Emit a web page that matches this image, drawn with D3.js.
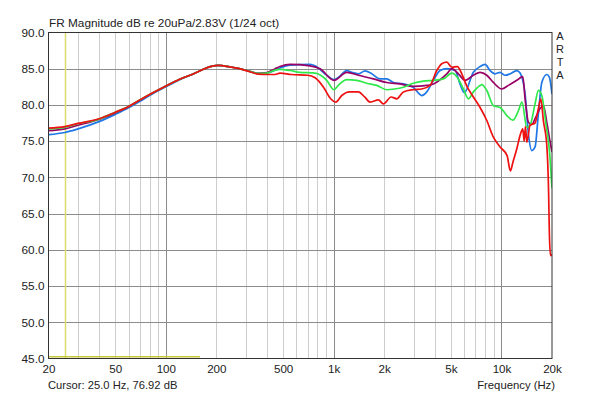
<!DOCTYPE html>
<html><head><meta charset="utf-8">
<script src="https://cdn.jsdelivr.net/npm/d3@7"></script>
<style>
html,body{margin:0;padding:0;background:#fff;}
svg{display:block;font-family:"Liberation Sans",Arial,sans-serif;}
</style></head>
<body><svg id="chart" width="600" height="397"></svg>
<script>
const titleText = "FR Magnitude dB re 20uPa/2.83V (1/24 oct)";
const xTickValues = [20,50,100,200,500,1000,2000,5000,10000,20000];
const xTickLabels = ["20","50","100","200","500","1k","2k","5k","10k","20k"];
const yTickValues = [45,50,55,60,65,70,75,80,85,90];
const yTickLabels = ["45.0","50.0","55.0","60.0","65.0","70.0","75.0","80.0","85.0","90.0"];
const cursorFreq = 25;
const cursorText = "Cursor: 25.0 Hz, 76.92 dB";
const markerRange = [20,160];
const markerLevel = 45.25;
const xAxisTitle = "Frequency (Hz)";
const brandLetters = ["A","R","T","A"];

const blueSeries = [[20,75.9],[25,76.2],[30,76.7],[40,77.7],[50,78.7],[60,79.6],[70,80.5],[80,81.3],[100,82.5],[120,83.45],[150,84.4],[170,85.0],[206,85.45],[240,85.25],[270,85.05],[320,84.6],[356,84.35],[400,84.4],[448,84.8],[479,85.1],[550,85.5],[723,85.6],[775,85.4],[910,84.1],[1005,83.5],[1066,83.8],[1197,84.75],[1282,84.5],[1404,84.3],[1539,84.7],[1687,84.3],[1890,83.6],[2072,83.6],[2270,83.1],[2603,82.9],[2975,82.45],[3350,81.3],[3590,81.8],[3929,83.4],[4308,84.75],[4722,85.0],[5292,84.75],[5660,82.9],[6000,81.7],[6801,84.5],[7457,85.3],[7986,85.6],[8554,84.75],[9162,84.3],[9810,84.5],[10506,84.1],[11275,84.3],[12340,84.75],[12910,84.4],[13828,81.5],[14470,76.0],[15158,73.7],[15852,74.2],[16596,78.8],[17388,83.1],[18622,84.2],[19300,83.8],[20000,81.5]];
const purpleSeries = [[20,76.45],[25,76.7],[30,77.2],[40,78.0],[50,78.9],[60,79.75],[70,80.65],[80,81.4],[100,82.6],[120,83.5],[150,84.4],[170,85.0],[206,85.45],[240,85.25],[270,85.05],[320,84.6],[356,84.35],[400,84.45],[448,85.0],[479,85.3],[550,85.6],[723,85.4],[830,85.0],[1005,83.4],[1197,84.5],[1404,84.1],[1724,83.6],[2072,83.1],[2488,82.9],[2975,82.55],[3590,82.7],[3929,82.9],[4722,84.3],[5058,85.0],[5534,84.3],[6070,83.4],[6801,84.1],[7457,84.5],[8177,84.1],[8950,83.1],[10044,82.2],[11000,82.7],[12340,83.4],[13398,83.9],[13828,80.85],[14470,77.6],[15158,77.3],[15852,78.1],[16986,79.5],[17774,79.9],[18622,77.6],[19486,74.9],[20000,73.5]];
const greenSeries = [[20,76.7],[25,76.9],[30,77.4],[40,78.05],[50,79.0],[60,79.8],[70,80.7],[80,81.45],[100,82.6],[120,83.5],[150,84.4],[170,85.0],[206,85.45],[240,85.25],[270,85.05],[320,84.6],[356,84.35],[400,84.4],[448,84.8],[479,84.9],[550,84.75],[630,84.5],[775,84.4],[910,83.4],[1005,82.1],[1066,82.7],[1197,83.5],[1373,83.4],[1575,83.0],[1808,82.7],[2072,82.1],[2300,82.2],[2603,82.45],[2975,83.0],[3425,83.3],[3929,83.4],[4506,83.6],[5058,84.4],[5464,83.8],[5930,82.2],[6360,80.85],[6801,81.8],[7457,82.7],[7630,82.8],[8177,82.0],[8950,79.9],[9810,79.65],[10800,78.5],[11700,77.9],[12612,79.2],[13250,80.4],[14154,76.9],[14810,77.2],[15852,80.15],[16596,82.0],[17388,81.3],[18400,77.4],[19300,73.7],[20000,68.5]];
const redSeries = [[20,76.8],[25,77.0],[30,77.45],[40,78.1],[50,79.0],[60,79.8],[70,80.7],[80,81.45],[100,82.6],[120,83.5],[150,84.4],[170,85.0],[206,85.45],[240,85.25],[270,85.05],[320,84.55],[356,84.25],[400,84.2],[448,84.2],[479,84.4],[560,84.2],[700,84.1],[775,83.75],[870,82.45],[960,80.85],[1030,80.4],[1118,81.3],[1240,81.8],[1404,81.8],[1530,81.1],[1650,80.4],[1847,80.7],[1978,80.15],[2200,81.1],[2378,80.85],[2603,81.8],[2975,82.1],[3350,82.2],[3754,82.7],[4116,84.75],[4410,85.7],[4722,85.9],[5058,85.2],[5464,85.3],[5802,84.3],[6214,82.6],[6801,81.1],[7457,79.65],[8177,77.85],[8950,75.55],[9810,74.2],[10800,73.0],[11300,70.9],[11700,72.1],[12340,73.95],[12910,75.8],[13398,76.7],[13650,75.0],[13900,77.0],[14154,74.85],[14810,77.2],[15852,77.5],[16596,79.5],[17152,80.85],[17774,77.8],[18622,74.4],[19088,68.0],[19300,62.0],[19600,59.2],[20000,59.4]];

const seriesList = [
  {data: blueSeries, color: "#1e78e6"},
  {data: purpleSeries, color: "#990066"},
  {data: greenSeries, color: "#2fe84a"},
  {data: redSeries, color: "#ee1111"}
];

const svg = d3.select("#chart");
const L = 48.5, R = 552, T = 32.5, B = 358.5;
const x = d3.scaleLog().domain([20,20000]).range([L,R]);
const y = d3.scaleLinear().domain([45,90]).range([B,T]);

// vertical grid
const minorF = [];
[10,100,1000,10000].forEach(d => { for (let k=1;k<10;k++){ const f=d*k; if (f>20 && f<20000) minorF.push(f);} });
svg.append("g").selectAll("line").data(minorF).join("line")
  .attr("x1", d => Math.round(x(d))+0.5).attr("x2", d => Math.round(x(d))+0.5)
  .attr("y1", T).attr("y2", B)
  .attr("stroke", d => ([100,1000,10000].includes(d) ? "#8c8c8c" : "#cdcdcd"))
  .attr("stroke-width", 1);
// horizontal grid
svg.append("g").selectAll("line").data(yTickValues.filter(v => v>45 && v<90)).join("line")
  .attr("x1", L).attr("x2", R)
  .attr("y1", d => Math.round(y(d))+0.5).attr("y2", d => Math.round(y(d))+0.5)
  .attr("stroke", "#8c8c8c").attr("stroke-width", 1);

// cursor
svg.append("line").attr("x1", Math.round(x(cursorFreq))+0.5).attr("x2", Math.round(x(cursorFreq))+0.5)
  .attr("y1", T).attr("y2", B).attr("stroke", "#dcdc6e").attr("stroke-width", 1.5);
svg.append("line").attr("x1", x(markerRange[0])).attr("x2", x(markerRange[1]))
  .attr("y1", y(markerLevel)).attr("y2", y(markerLevel)).attr("stroke", "#c8c83c").attr("stroke-width", 1.5);

// curves
const line = d3.line().x(d => x(d[0])).y(d => y(d[1])).curve(d3.curveMonotoneX);
svg.append("clipPath").attr("id","clip").append("rect").attr("x",L).attr("y",T).attr("width",R-L).attr("height",B-T);
svg.append("g").attr("clip-path","url(#clip)").selectAll("path").data(seriesList).join("path")
  .attr("d", d => line(d.data)).attr("fill","none").attr("stroke", d => d.color).attr("stroke-width", 1.7)
  .attr("stroke-linejoin","round");

// frame
svg.append("rect").attr("x", L).attr("y", T).attr("width", R-L).attr("height", B-T)
  .attr("fill","none").attr("stroke","#333").attr("stroke-width",1);

// axes labels
const yAxis = d3.axisLeft(y).tickValues(yTickValues).tickFormat((d,i) => yTickLabels[i]).tickSize(0).tickPadding(4);
const gy = svg.append("g").attr("transform", `translate(${L},0)`).call(yAxis);
gy.select(".domain").remove();
gy.selectAll("text").attr("font-size", 11.8).attr("fill","#222").attr("font-family","Liberation Sans, Arial, sans-serif");

const xAxis = d3.axisBottom(x).tickValues(xTickValues).tickFormat((d,i) => xTickLabels[i]).tickSize(0).tickPadding(6);
const gx = svg.append("g").attr("transform", `translate(0,${B})`).call(xAxis);
gx.select(".domain").remove();
gx.selectAll("text").attr("font-size", 11.6).attr("fill","#222").attr("font-family","Liberation Sans, Arial, sans-serif");

// texts
svg.append("text").attr("x", 49).attr("y", 27).attr("font-size", 11.8).attr("fill","#222").text(titleText);
svg.append("text").attr("x", 48).attr("y", 389).attr("font-size", 11.2).attr("fill","#222").text(cursorText);
svg.append("text").attr("x", 555).attr("y", 389).attr("text-anchor","end").attr("font-size", 11.3).attr("fill","#222").text(xAxisTitle);
svg.append("g").selectAll("text").data(brandLetters).join("text")
  .attr("x", 560).attr("y", (d,i) => 40 + i*13).attr("text-anchor","middle")
  .attr("font-size", 11).attr("fill","#222").text(d => d);
</script></body></html>
